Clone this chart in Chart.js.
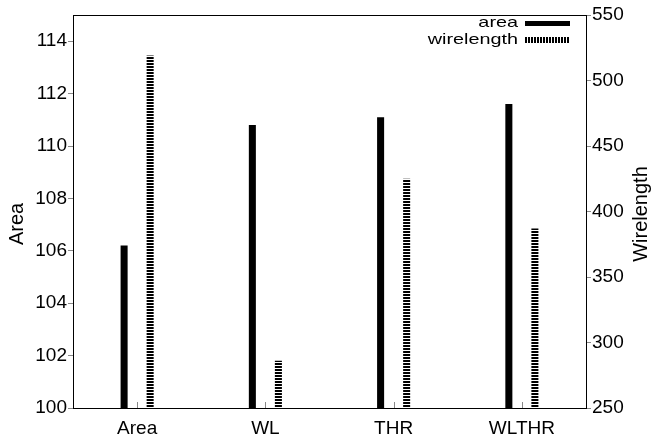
<!DOCTYPE html>
<html>
<head>
<meta charset="utf-8">
<script src="https://cdn.jsdelivr.net/npm/chart.js@4/dist/chart.umd.min.js"></script>
<style>
  html, body { margin: 0; padding: 0; background: #fff; }
  #wrap { width: 651px; height: 436px; }
</style>
</head>
<body>
<div id="wrap"><canvas id="c" width="651" height="436"></canvas></div>
<script>
// data
const categories = ["Area", "WL", "THR", "WLTHR"];
const areaValues = [106.2, 110.8, 111.1, 111.6];
const wirelengthValues = [519, 286, 425, 387];
const areaTicks = [100, 102, 104, 106, 108, 110, 112, 114];
const wirelengthTicks = [250, 300, 350, 400, 450, 500, 550];

const FONT = "'Liberation Sans', Arial, sans-serif";

// striped fills: horizontal for the bars, vertical for the legend sample
function stripes(vertical) {
    const p = document.createElement("canvas");
    p.width = vertical ? 3 : 4;
    p.height = vertical ? 4 : 3;
    const g = p.getContext("2d");
    g.fillStyle = "#fff";
    g.fillRect(0, 0, p.width, p.height);
    g.fillStyle = "#000";
    if (vertical) g.fillRect(0, 0, 2, 4);
    else g.fillRect(0, 0, 4, 2);
    return document.getElementById("c").getContext("2d").createPattern(p, "repeat");
}
const hatchH = stripes(false);
const hatchV = stripes(true);

// frame, category ticks, axis titles (both read bottom-to-top) and the legend
const decor = {
    id: "decor",
    afterDraw(chart) {
        const ctx = chart.ctx;
        const a = chart.chartArea;
        ctx.save();
        ctx.strokeStyle = "#000";
        ctx.lineWidth = 1;
        ctx.strokeRect(a.left + 0.5, a.top + 0.5, a.right - a.left, a.bottom - a.top);

        const x = chart.scales.x;
        ctx.strokeStyle = "#888";
        categories.forEach((c, i) => {
            const px = Math.round(x.getPixelForValue(i)) + 0.5;
            ctx.beginPath();
            ctx.moveTo(px, a.bottom);
            ctx.lineTo(px, a.bottom - 6);
            ctx.stroke();
        });

        ctx.fillStyle = "#000";
        ctx.textAlign = "center";
        ctx.textBaseline = "middle";
        ctx.font = "20px " + FONT;
        ctx.save();
        ctx.translate(17, 224);
        ctx.rotate(-Math.PI / 2);
        ctx.fillText("Area", 0, 0);
        ctx.restore();
        ctx.save();
        ctx.translate(641, 214);
        ctx.rotate(-Math.PI / 2);
        ctx.fillText("Wirelength", 0, 0);
        ctx.restore();

        // legend text is a bit wider than Liberation Sans, stretch it
        ctx.textAlign = "right";
        ctx.font = "15px " + FONT;
        ctx.save();
        ctx.translate(518, 0);
        ctx.scale(1.32, 1);
        ctx.fillText("area", 0, 23);
        ctx.fillText("wirelength", 0, 40);
        ctx.restore();
        ctx.fillRect(525, 21, 45, 5);
        ctx.fillStyle = hatchV;
        ctx.fillRect(525, 37, 45, 6);
        ctx.restore();
    }
};

const tickFont = { size: 19, family: FONT };

new Chart(document.getElementById("c"), {
    type: "bar",
    data: {
        labels: categories,
        datasets: [
            {
                label: "area",
                data: areaValues,
                yAxisID: "y",
                backgroundColor: "#000",
                categoryPercentage: 0.406,
                barPercentage: 0.27,
            },
            {
                label: "wirelength",
                data: wirelengthValues,
                yAxisID: "y2",
                backgroundColor: hatchH,
                categoryPercentage: 0.406,
                barPercentage: 0.27,
            },
        ],
    },
    options: {
        responsive: false,
        animation: false,
        layout: { padding: { top: 15, left: 0, right: 0, bottom: 0 } },
        plugins: { legend: { display: false }, tooltip: { enabled: false } },
        scales: {
            x: {
                grid: { display: false },
                border: { display: false },
                ticks: { color: "#000", font: tickFont, padding: 1 },
                afterFit(s) { s.height = 28; },
            },
            y: {
                position: "left",
                min: 100,
                max: 115,
                grid: { drawOnChartArea: false, tickLength: 5, color: "#888" },
                border: { display: false },
                ticks: { color: "#000", font: tickFont, padding: 1 },
                afterBuildTicks(s) { s.ticks = areaTicks.map((v) => ({ value: v })); },
                afterFit(s) { s.width = 73; },
            },
            y2: {
                position: "right",
                min: 250,
                max: 550,
                grid: { drawOnChartArea: false, tickLength: 5, color: "#888" },
                border: { display: false },
                ticks: { color: "#000", font: tickFont, padding: 1 },
                afterBuildTicks(s) { s.ticks = wirelengthTicks.map((v) => ({ value: v })); },
                afterFit(s) { s.width = 65; },
            },
        },
    },
    plugins: [decor],
});
</script>
</body>
</html>
